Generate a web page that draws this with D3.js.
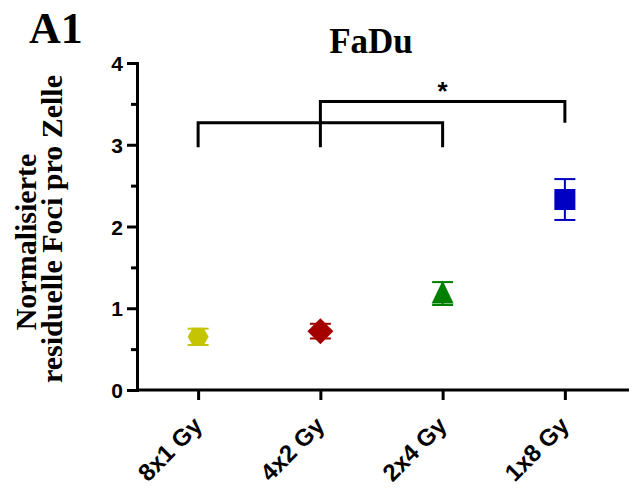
<!DOCTYPE html>
<html>
<head>
<meta charset="utf-8">
<script src="https://cdn.jsdelivr.net/npm/d3@7"></script>
<style>
  html, body { margin: 0; padding: 0; background: #fff; }
  svg { display: block; }
</style>
</head>
<body>
<svg id="chart" width="632" height="495"></svg>
<script>
// Fractionation schemes and normalised residual foci per cell (mean ± error)
const categories = ["8x1 Gy", "4x2 Gy", "2x4 Gy", "1x8 Gy"];
const means = [0.65, 0.72, 1.18, 2.33];
const errors = [0.10, 0.09, 0.14, 0.25];
const colors = ["#c4c400", "#a50000", "#008000", "#0000c4"];
const shapes = ["hexagon", "diamond", "triangle", "square"];
const yTicks = [0, 1, 2, 3, 4];
const yMinorTicks = [0.5, 1.5, 2.5, 3.5];

// Significance brackets: left/right group, bar level, and where each leg ends
const brackets = [
  { from: 0, to: 2, level: 3.27, leftEnd: 2.97, rightEnd: 2.97, label: "" },
  { from: 1, to: 3, level: 3.53, leftEnd: 2.97, rightEnd: 3.27, label: "*" }
];

const svg = d3.select("#chart");
const plotLeft = 137, plotRight = 626, plotTop = 63, plotBottom = 390;

const x = d3.scalePoint().domain(categories).range([plotLeft, plotRight]).padding(0.5);
const y = d3.scaleLinear().domain([0, 4]).range([plotBottom, plotTop]);

const sansBold = "'Liberation Sans', Arial, sans-serif";
const serifBold = "'Liberation Serif', 'Times New Roman', serif";

// Panel letter and title
svg.append("text").attr("x", 29).attr("y", 43)
  .attr("font-family", serifBold).attr("font-weight", "bold").attr("font-size", 44)
  .text("A1");
svg.append("text").attr("x", 371).attr("y", 53).attr("text-anchor", "middle")
  .attr("font-family", serifBold).attr("font-weight", "bold").attr("font-size", 35)
  .text("FaDu");

// Y axis title (two lines)
svg.append("text")
  .attr("transform", "translate(36,242) rotate(-90)")
  .attr("text-anchor", "middle")
  .attr("font-family", serifBold).attr("font-weight", "bold").attr("font-size", 30)
  .text("Normalisierte");
svg.append("text")
  .attr("transform", "translate(62,229) rotate(-90)")
  .attr("text-anchor", "middle")
  .attr("font-family", serifBold).attr("font-weight", "bold").attr("font-size", 30)
  .text("residuelle Foci pro Zelle");

// Y axis
const yAxis = svg.append("g").attr("transform", `translate(${plotLeft},0)`)
  .call(d3.axisLeft(y).tickValues(yTicks).tickFormat(d3.format("d")).tickSize(10).tickPadding(4));
svg.append("g").attr("transform", `translate(${plotLeft},0)`)
  .call(d3.axisLeft(y).tickValues(yMinorTicks).tickFormat("").tickSize(6))
  .call(g => g.select(".domain").remove());

// X axis
const xAxis = svg.append("g").attr("transform", `translate(0,${plotBottom})`)
  .call(d3.axisBottom(x).tickSize(10).tickSizeOuter(0));
xAxis.select(".domain").attr("d", `M${plotLeft},0H${629}`);

svg.selectAll(".domain").attr("stroke", "#000").attr("stroke-width", 3);
svg.selectAll(".tick line").attr("stroke", "#000").attr("stroke-width", 3);

yAxis.selectAll(".tick text")
  .attr("font-family", sansBold).attr("font-weight", "bold").attr("font-size", 21)
  .attr("fill", "#000").attr("dy", "0.36em");

xAxis.selectAll(".tick text")
  .attr("font-family", sansBold).attr("font-weight", "bold").attr("font-size", 24)
  .attr("fill", "#000")
  .attr("text-anchor", "end")
  .attr("x", 0).attr("y", 0).attr("dy", 0)
  .attr("transform", "translate(5,37) rotate(-45)");

// Error bars
const capW = 10.5;
const eb = svg.append("g");
categories.forEach((c, i) => {
  const cx = x(c), col = colors[i];
  const hi = y(means[i] + errors[i]), lo = y(means[i] - errors[i]);
  eb.append("line").attr("x1", cx).attr("x2", cx).attr("y1", hi).attr("y2", lo)
    .attr("stroke", col).attr("stroke-width", 2);
  [hi, lo].forEach(v => eb.append("line")
    .attr("x1", cx - capW).attr("x2", cx + capW).attr("y1", v).attr("y2", v)
    .attr("stroke", col).attr("stroke-width", 2));
});

// Markers
function shapePath(kind) {
  if (kind === "square") return "M-10.5,-10.5H10.5V10.5H-10.5Z";
  if (kind === "diamond") return "M0,-13L13,0L0,13L-13,0Z";
  if (kind === "triangle") return "M0,-13L11,10H-11Z";
  // hexagon with flat top and bottom
  const pts = d3.range(6).map(k => {
    const a = Math.PI / 3 * k;
    return [10.5 * Math.cos(a), 9 * Math.sin(a) / Math.sin(Math.PI / 3)];
  });
  return "M" + pts.map(p => p.join(",")).join("L") + "Z";
}
svg.append("g").selectAll("path").data(categories).join("path")
  .attr("transform", (d, i) => `translate(${x(d)},${y(means[i])})`)
  .attr("d", (d, i) => shapePath(shapes[i]))
  .attr("fill", (d, i) => colors[i]);

// Significance brackets
const br = svg.append("g").attr("fill", "none").attr("stroke", "#000").attr("stroke-width", 3);
brackets.forEach(b => {
  const x1 = x(categories[b.from]), x2 = x(categories[b.to]);
  br.append("path")
    .attr("d", `M${x1},${y(b.leftEnd)}V${y(b.level)}H${x2}V${y(b.rightEnd)}`);
  if (b.label) {
    svg.append("text").attr("x", (x1 + x2) / 2).attr("y", y(b.level) - 1)
      .attr("text-anchor", "middle")
      .attr("font-family", sansBold).attr("font-weight", "bold").attr("font-size", 26)
      .text(b.label);
  }
});
</script>
</body>
</html>
